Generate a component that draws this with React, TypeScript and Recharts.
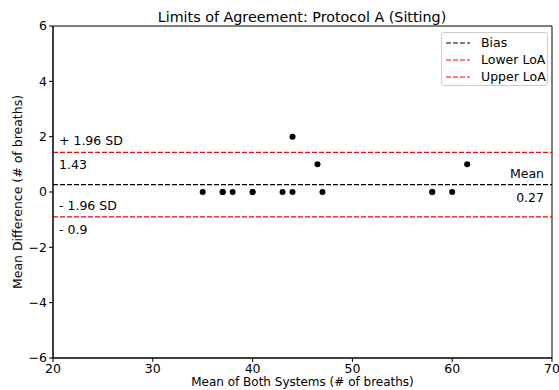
import { ScatterChart, Scatter, XAxis, YAxis, ReferenceLine, ReferenceArea, Label } from 'recharts'

const meanBoth = [35, 37, 37, 38, 40, 40, 43, 44, 44, 46.5, 47, 58, 58, 60, 61.5]
const meanDiff = [0, 0, 0, 0, 0, 0, 0, 0, 2, 1, 0, 0, 0, 0, 1]
const xTicks = [20, 30, 40, 50, 60, 70]
const yTicks = [-6, -4, -2, 0, 2, 4, 6]
const bias = 0.27
const lowerLoA = -0.9
const upperLoA = 1.43

const points = meanBoth.map((x, i) => ({ x, y: meanDiff[i] }))

const font = 'DejaVu Sans, sans-serif'
const minus = (v: number) => String(v).replace('-', '\u2212')

function LineLabel({ viewBox, above, below, side }: any) {
  const { x, y, width } = viewBox
  const left = side === 'left'
  const tx = left ? x + 6 : x + width - 8
  const anchor = left ? 'start' : 'end'
  return (
    <g fontFamily={font} fontSize={12.5} fill="#000">
      <text x={tx} y={y - 7} textAnchor={anchor}>{above}</text>
      <text x={tx} y={y + 17} textAnchor={anchor}>{below}</text>
    </g>
  )
}

const legendItems = [
  { name: 'Bias', color: '#000' },
  { name: 'Lower LoA', color: '#ff0000' },
  { name: 'Upper LoA', color: '#ff0000' },
]

function LegendBox() {
  return (
    <div style={{ position: 'absolute', left: 441, top: 32, border: '1px solid #ccc', borderRadius: 3, background: '#fff', width: 107, height: 54, boxSizing: 'border-box', padding: '1px 0 0 3px', fontFamily: font, fontSize: 12.5 }}>
      {legendItems.map((it) => (
        <div key={it.name} style={{ display: 'flex', alignItems: 'center', height: 17 }}>
          <svg width={26} height={10}>
            <line x1={1} y1={5} x2={25} y2={5} stroke={it.color} strokeWidth={1.2} strokeDasharray="5 2" />
          </svg>
          <span style={{ marginLeft: 10 }}>{it.name}</span>
        </div>
      ))}
    </div>
  )
}

export default function App() {
  return (
    <div style={{ position: 'absolute', left: 0, top: 0, width: 559, height: 390, background: '#fff' }}>
      <ScatterChart width={559} height={390} margin={{ top: 26, right: 7, bottom: 0, left: 0 }}>
        <XAxis
          type="number"
          dataKey="x"
          domain={[20, 70]}
          ticks={xTicks}
          height={32}
          tickSize={4}
          tick={{ fill: '#000', fontSize: 12.5, fontFamily: font }}
          stroke="#000"
          allowDataOverflow
        >
          <Label value="Mean of Both Systems (# of breaths)" position="insideBottom" offset={4} style={{ fill: '#000', fontSize: 12, fontFamily: font }} />
        </XAxis>
        <YAxis
          type="number"
          dataKey="y"
          domain={[-6, 6]}
          ticks={yTicks}
          width={53}
          tickSize={4}
          tickFormatter={minus}
          tick={{ fill: '#000', fontSize: 12.5, fontFamily: font }}
          stroke="#000"
          allowDataOverflow
        >
          <Label value="Mean Difference (# of breaths)" angle={-90} position="insideLeft" offset={18} style={{ textAnchor: 'middle', fill: '#000', fontSize: 12.5, fontFamily: font }} />
        </YAxis>
        <ReferenceArea x1={20} x2={70} y1={-6} y2={6} fill="none" stroke="#000" strokeWidth={1} ifOverflow="visible" />
        <ReferenceLine y={bias} stroke="#000" strokeWidth={1.2} strokeDasharray="5 2" label={<LineLabel side="right" above="Mean" below={String(bias)} />} />
        <ReferenceLine y={upperLoA} stroke="#ff0000" strokeWidth={1.2} strokeDasharray="5 2" label={<LineLabel side="left" above="+ 1.96 SD" below={String(upperLoA)} />} />
        <ReferenceLine y={lowerLoA} stroke="#ff0000" strokeWidth={1.2} strokeDasharray="5 2" label={<LineLabel side="left" above="- 1.96 SD" below={'- ' + Math.abs(lowerLoA)} />} />
        <Scatter
          data={points}
          fill="#000"
          isAnimationActive={false}
          shape={(p: any) => <circle cx={p.cx} cy={p.cy} r={3} fill="#000" />}
        />
      </ScatterChart>
      <div style={{ position: 'absolute', left: 0, top: 9, width: 604, textAlign: 'center', fontFamily: font, fontSize: 14.3 }}>
        Limits of Agreement: Protocol A (Sitting)
      </div>
      <LegendBox />
    </div>
  )
}
